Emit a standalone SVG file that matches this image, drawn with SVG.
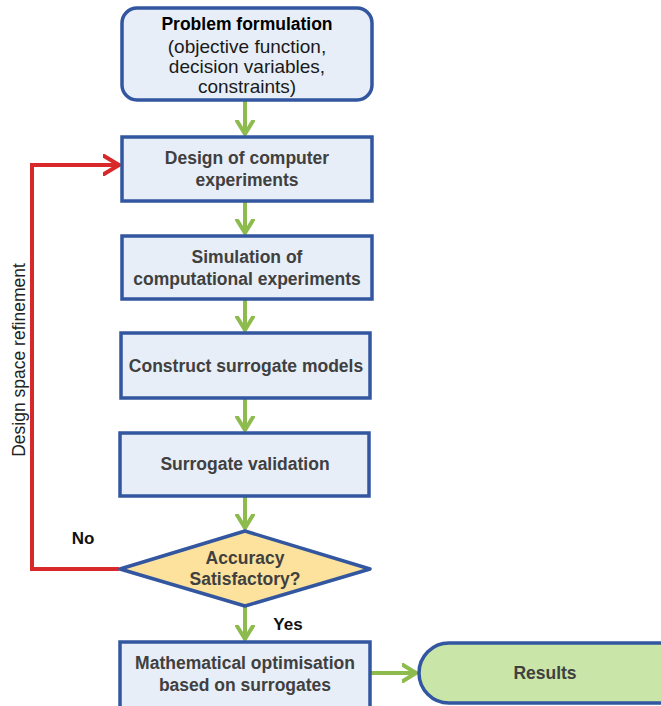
<svg xmlns="http://www.w3.org/2000/svg" width="661" height="706" viewBox="0 0 661 706">
<style>
.box{fill:#E7EEF7;stroke:#3356A0;stroke-width:3.5}
.t{font-family:"Liberation Sans",Arial,sans-serif;font-size:17.5px;font-weight:bold;fill:#404040;text-anchor:middle}
.r{font-family:"Liberation Sans",Arial,sans-serif;font-size:19px;fill:#1a1a1a;text-anchor:middle}
.g{fill:none;stroke:#8DBB4E;stroke-width:4}
.red{fill:none;stroke:#D8282A;stroke-width:4}
</style>
<defs>
<marker id="ag" viewBox="0 0 16 20" refX="15" refY="10" markerWidth="16" markerHeight="20" markerUnits="userSpaceOnUse" orient="auto">
<path d="M1,2 L14,10 L1,18" fill="none" stroke="#8DBB4E" stroke-width="4" stroke-linecap="round" stroke-linejoin="round"/>
</marker>
<marker id="ar" viewBox="0 0 18 22" refX="17" refY="11" markerWidth="18" markerHeight="22" markerUnits="userSpaceOnUse" orient="auto">
<path d="M1,2 L16,11 L1,20" fill="none" stroke="#D8282A" stroke-width="4" stroke-linecap="round" stroke-linejoin="round"/>
</marker>
</defs>
<g id="connectors">
<line class="g" x1="245" y1="101" x2="245" y2="135" marker-end="url(#ag)"/>
<line class="g" x1="245" y1="202" x2="245" y2="234" marker-end="url(#ag)"/>
<line class="g" x1="245" y1="300" x2="245" y2="331" marker-end="url(#ag)"/>
<line class="g" x1="245" y1="399" x2="245" y2="431" marker-end="url(#ag)"/>
<line class="g" x1="245" y1="497" x2="245" y2="529" marker-end="url(#ag)"/>
<line class="g" x1="245" y1="607" x2="245" y2="640" marker-end="url(#ag)"/>
<line class="g" x1="371" y1="673" x2="417" y2="673" marker-end="url(#ag)"/>
<polyline class="red" points="119,569 32,569 32,165 120,165" marker-end="url(#ar)"/>
<text x="83" y="544" class="t" style="fill:#111;font-size:17px">No</text>
<text x="288" y="630" class="t" style="fill:#111;font-size:17px">Yes</text>
<text transform="translate(25,360) rotate(-90)" class="r" style="font-size:17.5px;fill:#222">Design space refinement</text>
</g>
<g id="problem">
<rect class="box" x="122" y="8" width="250" height="92" rx="15"/>
<text x="247" y="30" class="t" style="fill:#000">Problem formulation</text>
<text x="247" y="53" class="r">(objective function,</text>
<text x="247" y="73" class="r">decision variables,</text>
<text x="247" y="93" class="r">constraints)</text>
</g>
<g id="design">
<rect class="box" x="122" y="137" width="250" height="64"/>
<text x="247" y="164" class="t">Design of computer</text>
<text x="247" y="186" class="t">experiments</text>
</g>
<g id="simulation">
<rect class="box" x="122" y="236" width="250" height="63"/>
<text x="247" y="263" class="t">Simulation of</text>
<text x="247" y="285" class="t">computational experiments</text>
</g>
<g id="construct">
<rect class="box" x="121" y="333" width="249" height="65"/>
<text x="246" y="372" class="t">Construct surrogate models</text>
</g>
<g id="validation">
<rect class="box" x="120" y="433" width="249" height="63"/>
<text x="245" y="470" class="t">Surrogate validation</text>
</g>
<g id="decision">
<polygon points="245,531 370,569 245,606 120,569" fill="#FCE29C" stroke="#3356A0" stroke-width="3.5" stroke-linejoin="round"/>
<text x="245" y="564" class="t">Accuracy</text>
<text x="245" y="585" class="t">Satisfactory?</text>
</g>
<g id="optimisation">
<rect class="box" x="120" y="642" width="250" height="66"/>
<text x="245" y="669" class="t">Mathematical optimisation</text>
<text x="245" y="691" class="t">based on surrogates</text>
</g>
<g id="results">
<rect x="419" y="643" width="270" height="60" rx="30" fill="#C9E6A8" stroke="#3356A0" stroke-width="3.5"/>
<text x="545" y="679" class="t">Results</text>
</g>
</svg>
